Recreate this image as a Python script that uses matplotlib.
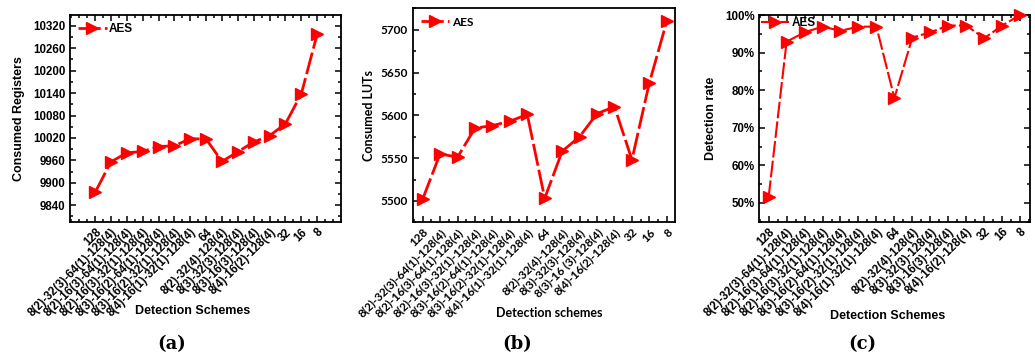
import matplotlib
matplotlib.use("Agg")
import matplotlib.pyplot as plt
from matplotlib.ticker import MultipleLocator, FuncFormatter
import numpy as np

categories = ["128",
              "8(2)-32(3)-64(1)-128(4)",
              "8(2)-16(3)-64(1)-128(4)",
              "8(2)-16(3)-32(1)-128(4)",
              "8(3)-16(2)-64(1)-128(4)",
              "8(3)-16(2)-32(1)-128(4)",
              "8(4)-16(1)-32(1)-128(4)",
              "64",
              "8(2)-32(4)-128(4)",
              "8(3)-32(3)-128(4)",
              "8(3)-16(3)-128(4)",
              "8(4)-16(2)-128(4)",
              "32", "16", "8"]
categories_b = list(categories)
categories_b[10] = "8(3)-16 (3)-128(4)"

registers = [9874, 9956, 9980, 9984, 9997, 9999, 10018, 10017,
             9957, 9983, 10009, 10026, 10058, 10138, 10298]
luts = [5502, 5555, 5551, 5585, 5588, 5593, 5601, 5503,
        5558, 5575, 5602, 5610, 5548, 5638, 5710]
detection = [51.6, 92.9, 95.4, 96.9, 95.8, 96.9, 96.9, 77.9,
             94.0, 95.4, 97.2, 97.2, 93.8, 97.2, 100.0]

W, H = 1035, 358
fig = plt.figure(figsize=(W / 100, H / 100), dpi=100)

def rect(l, r, t, b):
    return [l / W, (H - b) / H, (r - l) / W, (b - t) / H]

RED = "#ff0000"
x = np.arange(len(categories))

def style_axes(ax, family, weight, fs):
    for s in ax.spines.values():
        s.set_linewidth(1.3)
    ax.tick_params(which="both", direction="in", top=True, right=True, width=1.1)
    ax.tick_params(which="major", length=4)
    ax.tick_params(which="minor", length=2)
    ax.xaxis.set_minor_locator(MultipleLocator(0.5))
    for lab in ax.get_yticklabels():
        lab.set_fontfamily(family)
        lab.set_fontweight(weight)
        lab.set_fontsize(fs)

def draw(ax, y, cats, family, weight, lw, ms, tfs, lfs, bap=0.3, bp=0.4):
    ax.plot(x, y, color=RED, lw=lw, ls=(0, (8, 1.5)), marker=">", ms=ms,
            label="AES", clip_on=False, zorder=3)
    ax.set_xticks(x)
    ax.set_xticklabels(cats, rotation=45, ha="right", rotation_mode="anchor",
                       fontfamily=family, fontweight=weight, fontsize=tfs)
    ax.tick_params(axis="x", pad=3)
    leg = ax.legend(loc="upper left", frameon=False, handlelength=2.4,
                    handletextpad=0.2, borderaxespad=bap, borderpad=bp,
                    prop=dict(family=family, weight=weight, size=lfs))
    return leg

# (a)
axa = fig.add_axes(rect(70, 341, 15, 222))
draw(axa, registers, categories, "Liberation Sans", "bold", 2.0, 8, 8.3, 8.5)
axa.set_xlim(-1.58, 15.5)
axa.set_ylim(9795, 10349)
axa.yaxis.set_major_locator(MultipleLocator(60))
axa.yaxis.set_minor_locator(MultipleLocator(30))
style_axes(axa, "Liberation Sans", "bold", 8.3)
axa.set_ylabel("Consumed Registers", fontfamily="Liberation Sans", fontweight="bold", fontsize=9)
axa.yaxis.set_label_coords(-0.165, 0.5)
fig.text(193 / W, 1 - 311 / H, "Detection Schemes", ha="center", va="center",
         fontfamily="Liberation Sans", fontweight="bold", fontsize=9)

# (b)
axb = fig.add_axes(rect(412.7, 675, 8.3, 222.3))
draw(axb, luts, categories_b, "Lato", "bold", 2.0, 8, 8.5, 8.5)
axb.set_xlim(-0.57, 14.47)
axb.set_ylim(5475, 5725)
axb.yaxis.set_major_locator(MultipleLocator(50))
axb.yaxis.set_minor_locator(MultipleLocator(25))
style_axes(axb, "Lato", "bold", 8.5)
axb.tick_params(top=False, right=False, which="both")
axb.set_ylabel("Consumed LUTs", fontfamily="Lato", fontweight="bold", fontsize=9)
axb.yaxis.set_label_coords(-0.145, 0.5)
fig.text(549 / W, 1 - 313 / H, "Detection schemes", ha="center", va="center",
         fontfamily="Lato", fontweight="bold", fontsize=9)

# (c)
axc = fig.add_axes(rect(759.3, 1030, 15, 221.7))
draw(axc, detection, categories, "Liberation Sans", "bold", 1.5, 8.5, 8.3, 8.5,
     bap=0.0, bp=0.15)
axc.set_xlim(-0.52, 14.55)
axc.set_ylim(45, 100)
axc.yaxis.set_major_locator(MultipleLocator(10))
axc.yaxis.set_minor_locator(MultipleLocator(5))
axc.yaxis.set_major_formatter(FuncFormatter(lambda v, p: f"{v:.0f}%"))
style_axes(axc, "Liberation Sans", "bold", 8.3)
axc.set_ylabel("Detection rate", fontfamily="Liberation Sans", fontweight="bold", fontsize=9)
axc.yaxis.set_label_coords(-0.155, 0.5)
fig.text(888 / W, 1 - 316 / H, "Detection Schemes", ha="center", va="center",
         fontfamily="Liberation Sans", fontweight="bold", fontsize=9)

# panel labels
for xc, t in [(172, "(a)"), (517, "(b)"), (862, "(c)")]:
    fig.text(xc / W, 1 - 344 / H, t, ha="center", va="center",
             fontfamily="DejaVu Serif", fontweight="bold", fontsize=13)

fig.savefig("out.png", dpi=100)
